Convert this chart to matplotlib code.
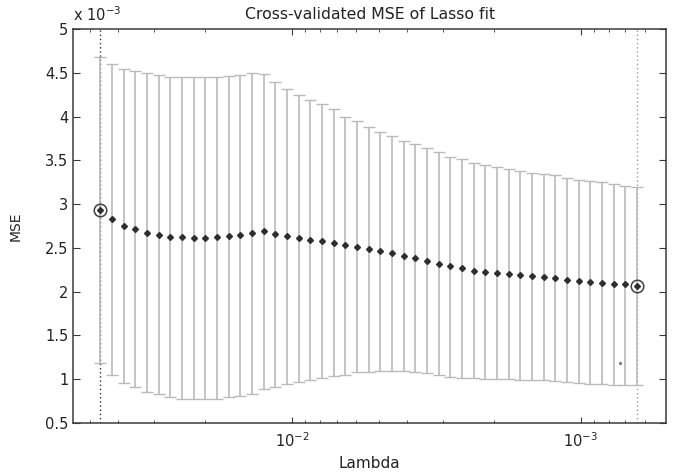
import matplotlib
matplotlib.use("Agg")
import matplotlib.pyplot as plt
from matplotlib.ticker import LogLocator, NullFormatter, FixedLocator

# lambda grid, largest first
lam = [0.04613, 0.04203, 0.03829, 0.03488, 0.03179, 0.02896, 0.02638, 0.02404,
       0.02191, 0.01996, 0.01818, 0.01657, 0.01510, 0.01376, 0.01253, 0.01142,
       0.01040, 0.009480, 0.008636, 0.007869, 0.007169, 0.006532, 0.005951,
       0.005422, 0.004941, 0.004501, 0.004101, 0.003737, 0.003404, 0.003102,
       0.002826, 0.002575, 0.002346, 0.002138, 0.001948, 0.001774, 0.001617,
       0.001473, 0.001342, 0.001223, 0.001114, 0.001015, 0.0009249, 0.0008427,
       0.0007678, 0.0006996, 0.0006373]

# cross-validated MSE (units of 1e-3)
mse = [2.93, 2.83, 2.75, 2.72, 2.67, 2.65, 2.62, 2.62, 2.61, 2.61, 2.62, 2.64,
       2.65, 2.67, 2.69, 2.66, 2.64, 2.61, 2.595, 2.58, 2.56, 2.535, 2.515,
       2.49, 2.465, 2.44, 2.41, 2.385, 2.355, 2.32, 2.295, 2.27, 2.24, 2.225,
       2.213, 2.198, 2.187, 2.175, 2.17, 2.156, 2.133, 2.122, 2.107, 2.095,
       2.084, 2.084, 2.068]

upper = [4.683, 4.596, 4.54, 4.517, 4.494, 4.474, 4.448, 4.448, 4.448, 4.448,
         4.448, 4.463, 4.478, 4.494, 4.49, 4.40, 4.315, 4.246, 4.19, 4.143,
         4.083, 4.0, 3.952, 3.884, 3.827, 3.778, 3.724, 3.686, 3.637, 3.595,
         3.541, 3.515, 3.473, 3.45, 3.427, 3.397, 3.381, 3.355, 3.344, 3.329,
         3.301, 3.275, 3.264, 3.249, 3.226, 3.21, 3.199]

lower = [1.189, 1.052, 0.96, 0.911, 0.858, 0.831, 0.793, 0.778, 0.778, 0.778,
         0.778, 0.793, 0.808, 0.831, 0.885, 0.915, 0.942, 0.965, 0.991, 1.017,
         1.04, 1.052, 1.079, 1.079, 1.094, 1.094, 1.094, 1.079, 1.068, 1.052,
         1.029, 1.017, 1.017, 1.003, 1.003, 1.003, 0.991, 0.991, 0.991, 0.983,
         0.972, 0.96, 0.949, 0.949, 0.934, 0.934, 0.934]

# stray point near the lower right
stray_lam = [0.000728]
stray_mse = [1.19]

plt.rcParams['font.family'] = ['DejaVu Sans']
plt.rcParams['mathtext.fontset'] = 'dejavusans'

fig = plt.figure(figsize=(6.78, 4.72), dpi=100)
ax = fig.add_axes([0.1081, 0.1038, 0.8742, 0.8348])

yerr = [[m - lo for m, lo in zip(mse, lower)], [up - m for m, up in zip(mse, upper)]]
ax.errorbar(lam, mse, yerr=yerr, fmt='none', ecolor='#bababa', elinewidth=1.2,
            capsize=4, capthick=1.0, zorder=2)
ax.plot(lam, mse, linestyle='none', marker='D', markersize=3.0,
        color='#2e2e2e', zorder=3)

# highlighted points (min MSE and 1SE)
ax.axvline(lam[0], color='#303030', linestyle=(0, (1, 2)), linewidth=1.0, zorder=1)
ax.axvline(lam[-1], color='#9a9a9a', linestyle=(0, (1, 2)), linewidth=1.0, zorder=1)
ax.plot([lam[0], lam[-1]], [mse[0], mse[-1]], linestyle='none', marker='o',
        markersize=9, markerfacecolor='none', markeredgecolor='#404040',
        markeredgewidth=1.1, zorder=4)
ax.plot(stray_lam, stray_mse, linestyle='none', marker='.', markersize=2.5,
        color='#777777')

ax.set_xscale('log')
ax.set_xlim(0.0572, 0.000506)
ax.set_ylim(0.5, 5)
ax.yaxis.set_major_locator(FixedLocator([0.5, 1, 1.5, 2, 2.5, 3, 3.5, 4, 4.5, 5]))
ax.set_yticklabels(['0.5', '1', '1.5', '2', '2.5', '3', '3.5', '4', '4.5', '5'])
ax.xaxis.set_minor_locator(LogLocator(base=10, subs=range(2, 10)))
ax.xaxis.set_minor_formatter(NullFormatter())

for s in ax.spines.values():
    s.set_color('#3a3a3a')
    s.set_linewidth(1.1)
ax.tick_params(axis='both', which='both', direction='in', top=True, right=True,
               colors='#3a3a3a', labelcolor='#222222', labelsize=10.5)
ax.tick_params(axis='y', which='major', length=5)
ax.tick_params(axis='x', which='major', length=4)
ax.tick_params(axis='x', which='minor', length=2.5)
ax.tick_params(axis='x', pad=6)

ax.set_title('Cross-validated MSE of Lasso fit', fontsize=11.3, color='#222222', pad=7)
ax.set_xlabel('Lambda', fontsize=11, color='#222222', labelpad=4)
ax.set_ylabel('MSE', fontsize=10, color='#222222')
ax.yaxis.set_label_coords(-0.085, 0.5)
ax.text(0.0, 1.012, r'x 10$^{-3}$', transform=ax.transAxes, fontsize=10.5,
        color='#222222', ha='left', va='bottom')

fig.savefig('out.png', dpi=100, facecolor='white')
